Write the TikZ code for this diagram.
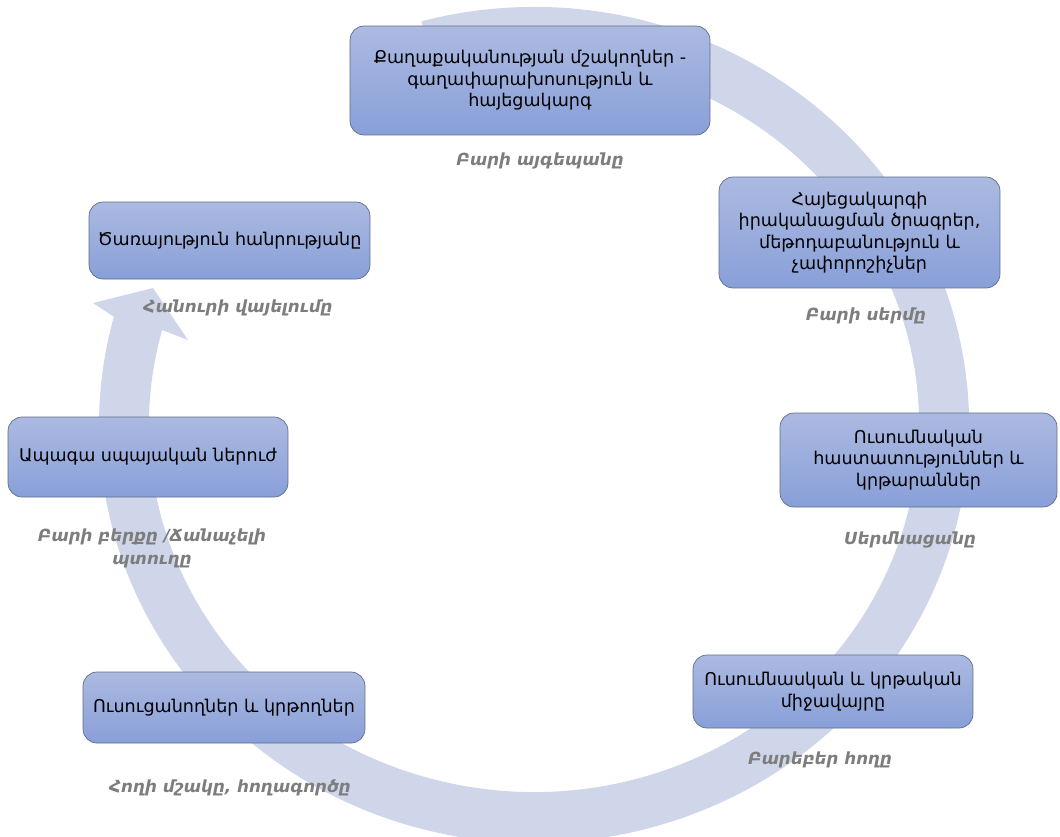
\documentclass[tikz,border=0pt]{standalone}
\usepackage{fontspec}
\setmainfont{DejaVu Sans}
\usepackage{tikz}
\usetikzlibrary{math,calc}

\definecolor{ringfill}{RGB}{207,214,234}
\definecolor{boxtop}{RGB}{172,186,225}
\definecolor{boxbot}{RGB}{136,159,216}
\definecolor{boxline}{RGB}{95,108,138}
\definecolor{tagtext}{RGB}{125,125,125}

\begin{document}
\begin{tikzpicture}[x=0.02cm, y=-0.02cm,
    stage/.style={draw=boxline, rounded corners=0.28cm, top color=boxtop, bottom color=boxbot,
      align=center, inner sep=2pt, font=\fontsize{10}{12.2}\selectfont},
    tag/.style={text=tagtext, align=center, font=\fontsize{9.5}{13}\selectfont\bfseries\itshape}]
  \useasboundingbox (0,0) rectangle (1060,836);
  \tikzmath{%
    \cx = 534; \cy = 425;
    \ao = 435; \bo = 418; \ai = 385; \bi = 367;
    \ts = -105; \te = 195;
  }
  \coordinate (ctr) at (\cx,\cy);

  % the big circular arrow behind the boxes
  \fill[ringfill] ($(ctr)+(\ts:{\ao} and {\bo})$)
    arc[start angle=\ts, end angle=\te, x radius=\ao, y radius=\bo]
    -- (93,303) -- (153,288) -- (188,340)
    -- ($(ctr)+(\te:{\ai} and {\bi})$)
    arc[start angle=\te, end angle=\ts, x radius=\ai, y radius=\bi] -- cycle;

  \node[stage, minimum width=7.2cm, minimum height=2.18cm] (policy) at (530,80.5)
    {Քաղաքականության մշակողներ -\\գաղափարախոսություն և\\հայեցակարգ};
  \node[stage, minimum width=5.62cm, minimum height=2.22cm] (program) at (859.5,232.5)
    {Հայեցակարգի\\իրականացման ծրագրեր,\\մեթոդաբանություն և\\չափորոշիչներ};
  \node[stage, minimum width=5.54cm, minimum height=1.88cm] (school) at (918.5,460)
    {Ուսումնական\\հաստատություններ և\\կրթարաններ};
  \node[stage, minimum width=5.6cm, minimum height=1.46cm] (milieu) at (833,691.5)
    {Ուսումնասկան և կրթական\\միջավայրը};
  \node[stage, minimum width=5.64cm, minimum height=1.42cm] (teacher) at (224,707.5)
    {Ուսուցանողներ և կրթողներ};
  \node[stage, minimum width=5.6cm, minimum height=1.6cm] (cadre) at (148,457)
    {Ապագա սպայական ներուժ};
  \node[stage, minimum width=5.62cm, minimum height=1.54cm] (service) at (229.5,240.5)
    {Ծառայություն հանրությանը};

  \node[tag] (gardener) at (540,161) {Բարի այգեպանը};
  \node[tag] (seed) at (866,316) {Բարի սերմը};
  \node[tag] (sower) at (910,540) {Սերմնացանը};
  \node[tag] (soil) at (820,760) {Բարեբեր հողը};
  \node[tag] (tiller) at (230,788) {Հողի մշակը, հողագործը};
  \node[tag] (harvest) at (152,548) {Բարի բերքը /Ճանաչելի\\պտուղը};
  \node[tag] (enjoy) at (238,308) {Հանուրի վայելումը};
\end{tikzpicture}
\end{document}
